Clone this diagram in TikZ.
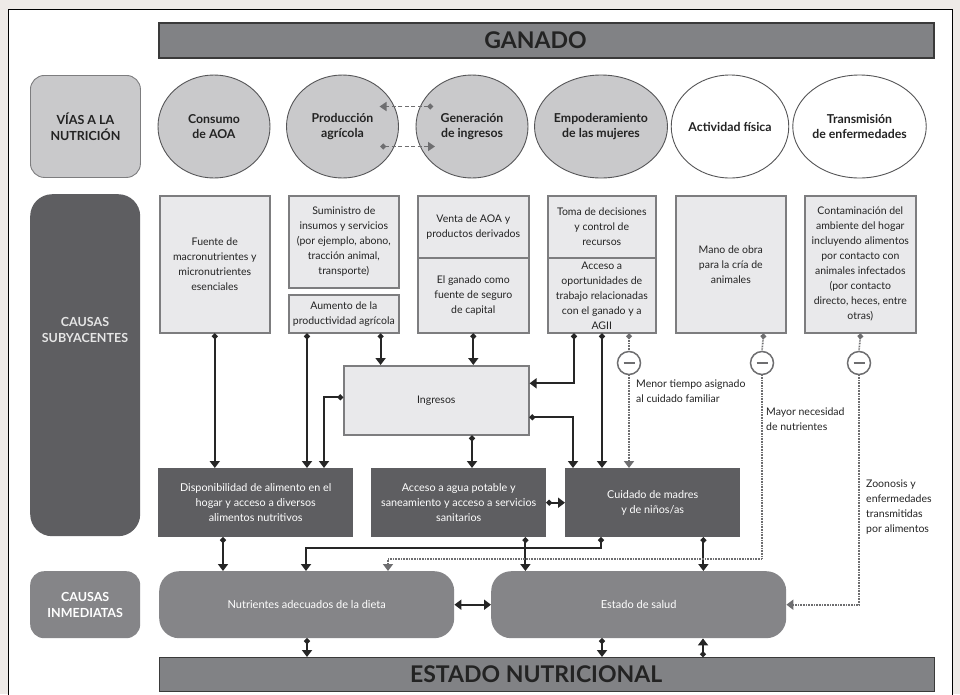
\documentclass[tikz,border=0pt]{standalone}
\usepackage{fontspec}
\setmainfont{Lato}
\usetikzlibrary{arrows.meta,shapes.geometric,calc}
\definecolor{bgout}{HTML}{EEEAE7}
\definecolor{barfill}{HTML}{818285}
\definecolor{barline}{HTML}{3A3A3A}
\definecolor{circfill}{HTML}{C9C9CB}
\definecolor{circline}{HTML}{555557}
\definecolor{lightfill}{HTML}{E9E9EB}
\definecolor{boxline}{HTML}{7D7D7F}
\definecolor{darkfill}{HTML}{5E5E61}
\definecolor{medfill}{HTML}{858588}
\definecolor{txtdark}{HTML}{232323}
\definecolor{dotgray}{HTML}{6E6E70}
\tikzset{
  bar/.style={draw=barline, line width=1.3pt, fill=barfill, minimum width=775pt, minimum height=35pt,
    font=\fontsize{23}{26}\selectfont\bfseries, text=txtdark, inner sep=0pt},
  rowlab/.style={rounded corners=14pt, minimum width=110pt, anchor=north west, inner sep=0pt,
    align=center, font=\fontsize{12.5}{16}\selectfont\bfseries},
  circ/.style={ellipse, draw=circline, line width=0.9pt, minimum width=112pt, minimum height=103pt,
    font=\fontsize{12.3}{15}\selectfont\bfseries, text=txtdark, align=center, inner sep=0pt},
  lbox/.style={draw=boxline, line width=1.6pt, fill=lightfill, align=center, anchor=north west,
    font=\fontsize{10.5}{15}\selectfont, text=txtdark, inner sep=0pt},
  dbox/.style={fill=darkfill, align=center, anchor=north west,
    font=\fontsize{10.8}{15}\selectfont, text=white, inner sep=0pt},
  rbox/.style={fill=medfill, rounded corners=20pt, align=center, anchor=north west, minimum width=295pt,
    minimum height=67pt, font=\fontsize{11}{14}\selectfont, text=white, inner sep=0pt},
  conn/.style={line width=2.1pt, draw=black!85, {Circle[length=5.5pt]}-{Triangle[width=10pt,length=7pt]}},
  dotconn/.style={line width=1.7pt, draw=dotgray, dash pattern=on 0.8pt off 0.8pt, -{Triangle[width=10pt,length=7pt]}},
  dotstart/.style={line width=1.7pt, draw=dotgray, dash pattern=on 0.8pt off 0.8pt, {Circle[length=5.5pt]}-},
  dashconn/.style={line width=1.6pt, draw=dotgray, dash pattern=on 4pt off 2.5pt, {Circle[length=5.5pt]}-{Triangle[width=9pt,length=7pt]}},
  mcirc/.style={circle, draw=dotgray, line width=1.5pt, fill=white, minimum size=23pt, inner sep=0pt,
    path picture={\draw[line width=1.6pt, dotgray] ([xshift=-5.5pt]path picture bounding box.center) -- ([xshift=5.5pt]path picture bounding box.center);}},
  note/.style={anchor=north west, align=left, inner sep=0pt, font=\fontsize{10.5}{14.8}\selectfont, text=txtdark}
}
\begin{document}
\begin{tikzpicture}[x=1pt,y=-1pt]
\useasboundingbox (0,0) rectangle (960,694);
\clip (0,0) rectangle (960,694);
\fill[bgout] (0,0) rectangle (960,694);
\draw[line width=1pt, fill=white] (8,9) rectangle (952,710);

% top bar
\node[bar] (ganado) at (546.5,40.5) {GANADO\hspace*{22pt}};

% row labels
\node[rowlab, fill=circfill, draw=boxline, line width=0.9pt, minimum height=102pt, text=txtdark] (vias) at (30,75) {VÍAS A LA\\NUTRICIÓN};
\node[rowlab, fill=darkfill, rounded corners=22pt, minimum height=342pt] (causas) at (30,194) {};
\node[align=center, font=\fontsize{12.5}{16}\selectfont\bfseries, text=white!90!black] (causastxt) at (85,330) {CAUSAS\\SUBYACENTES};
\node[rowlab, fill=medfill, minimum height=67pt, text=white] (inmed) at (30,571) {CAUSAS\\INMEDIATAS};

% circles
\node[circ, fill=circfill] (consumo) at (214,126.5) {Consumo\\de AOA};
\node[circ, fill=circfill] (prod) at (342.5,126.5) {Producción\\agrícola};
\node[circ, fill=circfill] (gen) at (472,126.5) {Generación\\de ingresos};
\node[circ, fill=circfill] (empod) at (601,126.5) {Empoderamiento\\de las mujeres};
\node[circ, fill=white] (activ) at (730,126.5) {Actividad física};
\node[circ, fill=white] (transm) at (859.5,126.5) {Transmisión\\de enfermedades};

\draw[dashconn] ([xshift=-39pt,yshift=20pt]gen.center) -- ([xshift=37pt,yshift=20pt]prod.center);
\draw[dashconn] ([xshift=38pt,yshift=-20pt]prod.center) -- ([xshift=-37pt,yshift=-20pt]gen.center);

% underlying causes boxes
\node[lbox, minimum width=110pt, minimum height=137pt] (fuente) at (159,195) {Fuente de\\macronutrientes y\\micronutrientes\\esenciales};
\node[lbox, minimum width=110pt, minimum height=92pt] (sumin) at (288,195) {Suministro de\\insumos y servicios\\(por ejemplo, abono,\\tracción animal,\\transporte)};
\node[lbox, minimum width=110pt, minimum height=38pt] (aum) at (288,294) {Aumento de la\\productividad agrícola};
\node[lbox, minimum width=111pt, minimum height=62pt] (venta) at (417,195) {Venta de AOA y\\productos derivados};
\node[lbox, minimum width=111pt, minimum height=75pt] (ganc) at (417,257) {El ganado como\\fuente de seguro\\de capital};
\node[lbox, minimum width=108pt, minimum height=62pt] (toma) at (547,195) {Toma de decisiones\\y control de\\recursos};
\node[lbox, minimum width=108pt, minimum height=75pt] (acceso) at (547,257) {Acceso a\\oportunidades de\\trabajo relacionadas\\con el ganado y a\\AGII};
\node[lbox, minimum width=110pt, minimum height=137pt] (mano) at (675,195) {Mano de obra\\para la cría de\\animales};
\node[lbox, minimum width=111pt, minimum height=137pt] (cont) at (804,195) {Contaminación del\\ambiente del hogar\\incluyendo alimentos\\por contacto con\\animales infectados\\(por contacto\\directo, heces, entre\\otras)};

\node[lbox, minimum width=185pt, minimum height=69pt] (ingr) at (343,365) {Ingresos};

\node[dbox, minimum width=195pt, minimum height=69pt] (disp) at (158,468) {Disponibilidad de alimento en el\\hogar y acceso a diversos\\alimentos nutritivos};
\node[dbox, minimum width=175pt, minimum height=69pt] (agua) at (371,468) {Acceso a agua potable y\\saneamiento y acceso a servicios\\sanitarios};
\node[dbox, minimum width=175pt, minimum height=69pt] (cuid) at (565,468) {Cuidado de madres\\y de niños/as};

% immediate causes
\node[rbox] (nutr) at (159,571) {Nutrientes adecuados de la dieta};
\node[rbox] (salud) at (491,571) {Estado de salud};

% bottom bar
\node[bar, minimum height=34pt, anchor=north west] (estado) at (159,657) {ESTADO NUTRICIONAL\hspace*{22pt}};

% minus circles
\node[mcirc] (m1) at (629,363) {};
\node[mcirc] (m2) at (762,363) {};
\node[mcirc] (m3) at (859,363) {};

% solid connectors
\draw[conn] (fuente.south) -- (fuente.south |- disp.north);
\draw[conn] ([xshift=19pt]aum.south west) -- ([xshift=19pt]aum.south west |- disp.north);
\draw[conn] ([xshift=-19pt]aum.south east) -- ([xshift=-19pt]aum.south east |- ingr.north);
\draw[conn] (ganc.south) -- (ganc.south |- ingr.north);
\draw[conn] ([xshift=27pt]acceso.south west) |- ([yshift=17pt]ingr.east);
\draw[conn] ([xshift=55pt]acceso.south west) -- ([xshift=55pt]acceso.south west |- cuid.north);
\draw[conn] ([yshift=3pt]ingr.west) -| ([xshift=166pt]disp.north west);
\draw[conn] ([xshift=129pt]ingr.south west) -- ([xshift=129pt]ingr.south west |- agua.north);
\draw[conn] ([yshift=-17pt]ingr.east) -| ([xshift=8pt]cuid.north west);
\draw[conn] (agua.east) -- (cuid.west);

\draw[conn] ([xshift=65pt]disp.south west) -- ([xshift=65pt]disp.south west |- nutr.north);
\draw[conn] ([xshift=36pt]cuid.south west) -- ++(0,11) -| ([xshift=147pt]nutr.north west);
\draw[conn] ([xshift=-21pt]agua.south east) -- ([xshift=-21pt]agua.south east |- salud.north);
\draw[conn] ([xshift=-37pt]cuid.south east) -- ([xshift=-37pt]cuid.south east |- salud.north);
\draw[line width=2.1pt, draw=black!85, {Triangle[width=10pt,length=7pt]}-{Triangle[width=10pt,length=7pt]}] (nutr.east) -- (salud.west);

\draw[conn] ([xshift=148pt]nutr.south west) -- ([xshift=148pt]nutr.south west |- estado.north);
\draw[conn] ([xshift=111pt]salud.south west) -- ([xshift=111pt]salud.south west |- estado.north);
\draw[conn] ([xshift=544pt]estado.north west) -- ([xshift=544pt]estado.north west |- salud.south);

% dotted connectors
\draw[dotstart] ([xshift=82pt]acceso.south west) -- (m1.north);
\draw[dotconn] (m1.south) -- (m1.south |- cuid.north);
\draw[dotstart] ([xshift=-23pt]mano.south east) -- (m2.north);
\draw[dotconn] (m2.south) |- ([xshift=229pt,yshift=12pt]nutr.north west) -- ([xshift=229pt]nutr.north west);
\draw[dotstart] ([xshift=-56pt]cont.south east) -- (m3.north);
\draw[dotconn] (m3.south) |- (salud.east);

% notes
\node[note] (menor) at (636,380) {Menor tiempo asignado\\al cuidado familiar};
\node[note] (mayor) at (766,408) {Mayor necesidad\\de nutrientes};
\node[note] (zoon) at (866,480) {Zoonosis y\\enfermedades\\transmitidas\\por alimentos};
\end{tikzpicture}
\end{document}
